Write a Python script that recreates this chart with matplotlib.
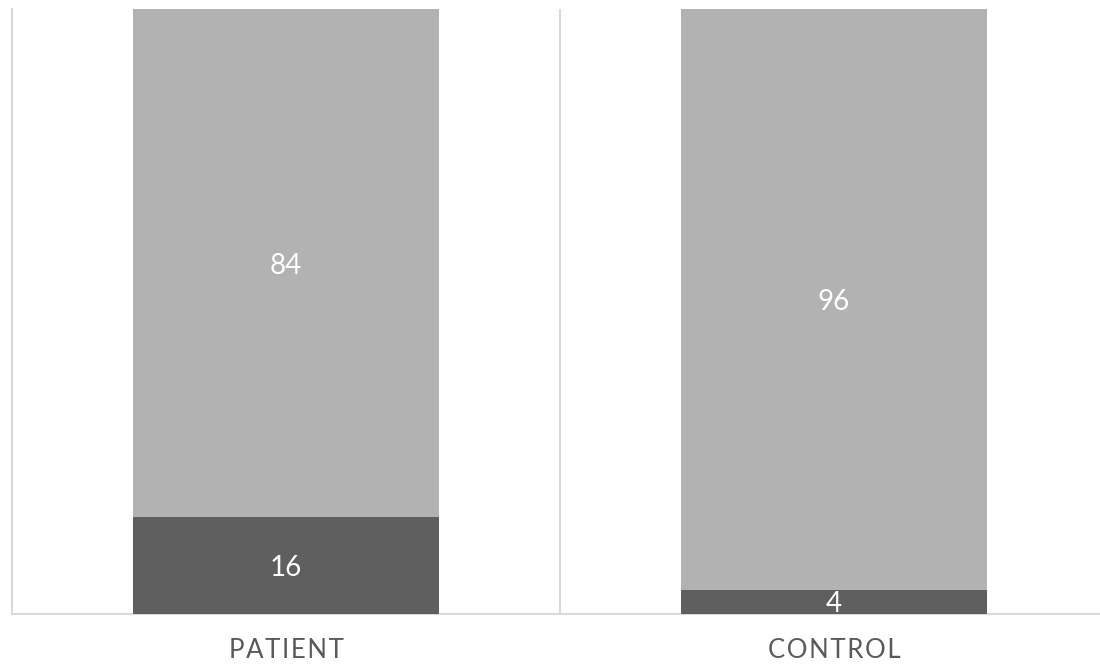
import matplotlib.pyplot as plt

categories = ['PATIENT', 'CONTROL']
dark_vals = [16, 4]
light_vals = [84, 96]

plt.rcParams['font.family'] = ['Lato', 'DejaVu Sans']

fig = plt.figure(figsize=(11, 6.64), dpi=100)
W, H = 1100, 664
ax = fig.add_axes([12 / W, (H - 614) / H, 1096 / W, 605 / H])

x = range(len(categories))
bw = 0.558
ax.bar(x, dark_vals, width=bw, color='#5f5f5f', zorder=3)
ax.bar(x, light_vals, width=bw, bottom=dark_vals, color='#b2b2b2', zorder=3)

for i in x:
    ax.text(i, dark_vals[i] / 2, str(dark_vals[i]), ha='center', va='center_baseline',
            color='white', fontsize=20, zorder=4)
    ax.text(i, dark_vals[i] + light_vals[i] / 2, str(light_vals[i]), ha='center',
            va='center_baseline', color='white', fontsize=20, zorder=4)

ax.set_xlim(-0.5, 1.5)
ax.set_ylim(0, 100)
ax.set_yticks([])
ax.set_xticks([0.5], minor=False)
ax.tick_params(axis='x', length=0, labelbottom=False)
ax.grid(axis='x', color='#d9d9d9', linewidth=1.5, zorder=0)

for i, c in enumerate(categories):
    ax.text(i, -3.9, '\u200a'.join(c), ha='center', va='top', color='#595959',
            fontsize=18.5, transform=ax.transData)

for s in ['top', 'right']:
    ax.spines[s].set_visible(False)
for s in ['left', 'bottom']:
    ax.spines[s].set_color('#d9d9d9')
    ax.spines[s].set_linewidth(1.5)

fig.savefig('out.png', dpi=100)
